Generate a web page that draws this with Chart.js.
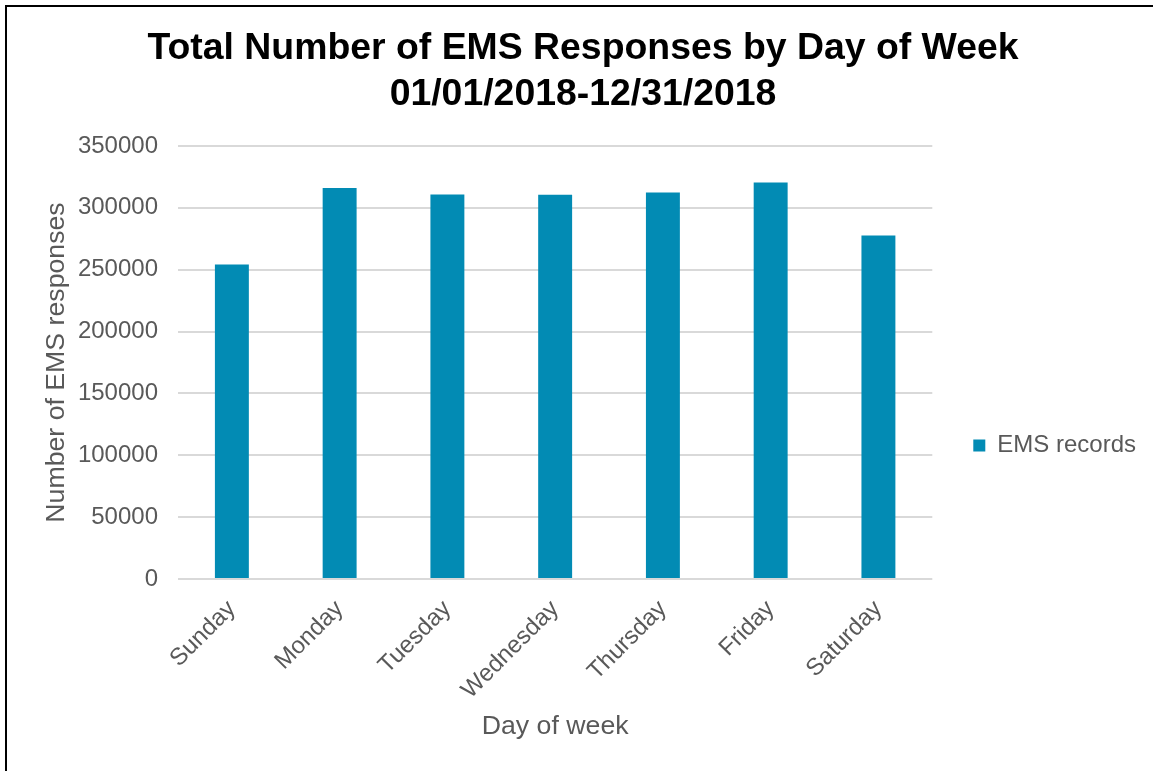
<!DOCTYPE html>
<html>
<head>
<meta charset="utf-8">
<title>EMS Responses by Day of Week</title>
<script src="https://cdn.jsdelivr.net/npm/chart.js@4.4.1/dist/chart.umd.min.js"></script>
<style>
  html, body { margin: 0; padding: 0; background: #fff; overflow: hidden; }
  #wrap { position: relative; width: 1153px; height: 771px; }
  #frame {
    position: absolute; left: 5px; top: 5px; right: -10px; bottom: -10px;
    border-left: 2px solid #000; border-top: 2px solid #000;
    pointer-events: none;
  }
  canvas { position: absolute; left: 0; top: 0; }
</style>
</head>
<body>
<div id="wrap">
  <canvas id="emsChart" width="1153" height="771"></canvas>
  <div id="frame"></div>
</div>
<script>
const days = ['Sunday', 'Monday', 'Tuesday', 'Wednesday', 'Thursday', 'Friday', 'Saturday'];
const emsRecords = [254300, 316000, 310900, 310500, 312500, 320500, 277600];
const titleLines = ['Total Number of EMS Responses by Day of Week', '01/01/2018-12/31/2018'];

const textGrey = '#595959';
const barBlue = '#028BB4';
const font = 'Liberation Sans, Arial, sans-serif';

// nudge the legend down so it sits beside the lower half of the plot
const legendShift = {
  id: 'legendShift',
  afterLayout(chart) {
    chart.legend.top += 65;
    chart.legend.bottom += 65;
  }
};

new Chart(document.getElementById('emsChart'), {
  type: 'bar',
  data: {
    labels: days,
    datasets: [{
      label: 'EMS records',
      data: emsRecords,
      backgroundColor: barBlue,
      borderWidth: 0,
      barPercentage: 1,
      categoryPercentage: 0.315
    }]
  },
  options: {
    responsive: false,
    animation: false,
    layout: { padding: { left: 20, right: 7, top: 0, bottom: 10 } },
    plugins: {
      title: {
        display: true,
        text: titleLines,
        color: '#000',
        font: { family: font, size: 37.4, weight: 'bold', lineHeight: 1.23 },
        padding: { top: 26, bottom: 28 }
      },
      legend: {
        position: 'right',
        labels: {
          boxWidth: 12,
          boxHeight: 12,
          padding: 41,
          color: textGrey,
          font: { family: font, size: 24 }
        }
      },
      tooltip: { enabled: false }
    },
    scales: {
      x: {
        grid: { display: false },
        border: { display: false },
        ticks: {
          color: textGrey,
          font: { family: font, size: 24 },
          minRotation: 45,
          maxRotation: 45,
          padding: 8
        },
        title: {
          display: true,
          text: 'Day of week',
          color: textGrey,
          font: { family: font, size: 26.7, lineHeight: 1.2 },
          padding: { top: 0, bottom: 18 }
        },
        afterFit(scale) { scale.height = 182; }
      },
      y: {
        min: 0,
        max: 350000,
        grid: { color: '#D9D9D9', lineWidth: 2, drawTicks: false },
        border: { display: false },
        ticks: {
          stepSize: 50000,
          color: textGrey,
          font: { family: font, size: 24 },
          padding: 20,
          callback: v => String(v)
        },
        title: {
          display: true,
          text: 'Number of EMS responses',
          color: textGrey,
          font: { family: font, size: 26.7, lineHeight: 1.2 },
          padding: { top: 21, bottom: 0 }
        },
        afterFit(scale) { scale.width = 158; }
      }
    }
  },
  plugins: [legendShift]
});
</script>
</body>
</html>
